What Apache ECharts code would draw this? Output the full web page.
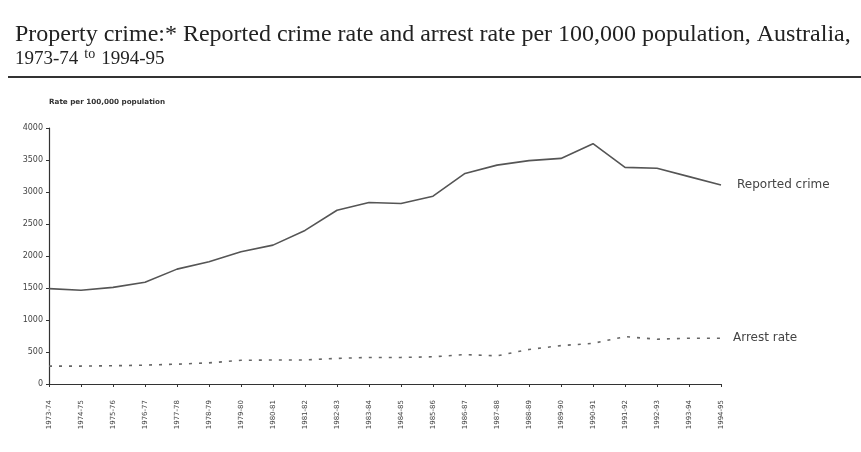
<!DOCTYPE html>
<html><head><meta charset="utf-8">
<script src="https://cdn.jsdelivr.net/npm/echarts@6/dist/echarts.min.js"></script>
<style>html,body{margin:0;padding:0;background:#fff}#c{width:861px;height:452px}</style>
</head><body><div id="c"></div>
<script>
const years = ['1973-74','1974-75','1975-76','1976-77','1977-78','1978-79','1979-80','1980-81','1981-82','1982-83','1983-84','1984-85','1985-86','1986-87','1987-88','1988-89','1989-90','1990-91','1991-92','1992-93','1993-94','1994-95'];
const reportedCrime = [1490,1465,1510,1590,1795,1910,2065,2170,2400,2715,2835,2820,2935,3290,3420,3490,3525,3755,3385,3370,3240,3110];
const arrestRate = [280,280,285,295,310,330,370,375,375,400,415,415,425,460,440,540,600,635,740,700,715,715];
const yTicks = [0,500,1000,1500,2000,2500,3000,3500,4000];
const seriesNames = ['Reported crime','Arrest rate'];

const chart = echarts.init(document.getElementById('c'), null, {renderer:'canvas'});
chart.setOption({
  backgroundColor:'#ffffff',
  animation:false,
  title:{
    text:'Property crime:* Reported crime rate and arrest rate per 100,000 population, Australia,\n{y|1973-74} {s|to} {y|1994-95}',
    left:10, top:18,
    textStyle:{fontFamily:'Liberation Serif', fontSize:24, fontWeight:'normal', color:'#222', lineHeight:24,
      rich:{y:{fontFamily:'Liberation Serif', fontSize:19, color:'#222', lineHeight:24}, s:{fontFamily:'Liberation Serif', fontSize:14, color:'#222', verticalAlign:'top', lineHeight:20}}}
  },
  graphic:[{type:'rect', shape:{x:8,y:76,width:853,height:2}, style:{fill:'#333'}}],
  grid:{left:49, right:140, top:128, bottom:68},
  xAxis:{
    type:'category', data:years, boundaryGap:false,
    axisLine:{lineStyle:{color:'#333', width:1.2}},
    axisTick:{show:true, length:3, alignWithLabel:true, lineStyle:{color:'#333'}},
    axisLabel:{rotate:90, fontSize:7, color:'#444', fontFamily:'DejaVu Sans', margin:16, interval:0}
  },
  yAxis:{
    type:'value', min:0, max:4000, interval:500,
    name:'Rate per 100,000 population', nameLocation:'end', nameGap:22,
    nameTextStyle:{align:'left', fontSize:7.2, fontWeight:'bold', color:'#333', fontFamily:'DejaVu Sans'},
    axisLine:{show:true, lineStyle:{color:'#333', width:1.2}},
    axisTick:{show:true, length:3, lineStyle:{color:'#333'}},
    axisLabel:{fontSize:8, color:'#444', fontFamily:'DejaVu Sans', margin:6, formatter:v=>String(v)},
    splitLine:{show:false}
  },
  series:[
    {name:seriesNames[0], type:'line', data:reportedCrime, symbol:'none',
     lineStyle:{color:'#555', width:1.6},
     endLabel:{show:true, formatter:'{a}', fontSize:12, color:'#444', fontFamily:'DejaVu Sans', distance:16}},
    {name:seriesNames[1], type:'line', data:arrestRate, symbol:'none',
     lineStyle:{color:'#666', width:1.6, type:[3,7]},
     endLabel:{show:true, formatter:'{a}', fontSize:12, color:'#444', fontFamily:'DejaVu Sans', distance:12}}
  ]
});
</script></body></html>
